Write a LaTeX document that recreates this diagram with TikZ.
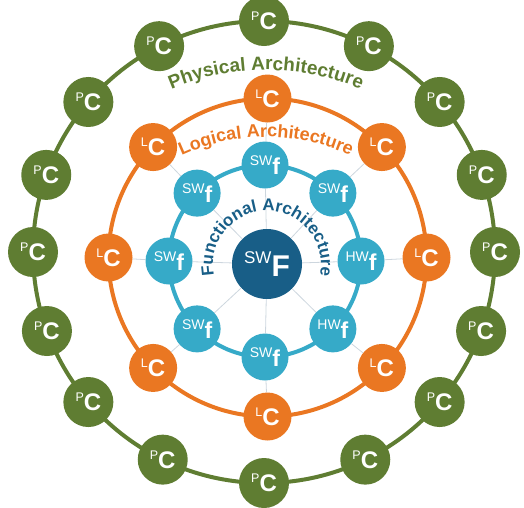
\documentclass[tikz,border=0pt]{standalone}
\usepackage{fontspec}
\setmainfont{Liberation Sans}
\usetikzlibrary{decorations.text,calc,backgrounds}
\definecolor{physgreen}{RGB}{95,125,50}
\definecolor{logorange}{RGB}{234,119,34}
\definecolor{funcblue}{RGB}{54,170,200}
\definecolor{coreblue}{RGB}{24,94,135}
\definecolor{spokegray}{RGB}{205,214,222}

% node contents
\newcommand{\pcomp}{{\raisebox{9pt}{\fontsize{12.5}{12.5}\selectfont P}\fontsize{24}{24}\selectfont\bfseries C}}
\newcommand{\lcomp}{{\raisebox{9pt}{\fontsize{12.5}{12.5}\selectfont L}\fontsize{24}{24}\selectfont\bfseries C}}
\newcommand{\swf}{{\raisebox{9pt}{\fontsize{14}{14}\selectfont SW}\fontsize{23}{23}\selectfont\bfseries f}}
\newcommand{\hwf}{{\raisebox{9pt}{\fontsize{14}{14}\selectfont HW}\fontsize{23}{23}\selectfont\bfseries f}}

\begin{document}
% y axis points down; a polar angle of a-90 puts a node a degrees clockwise from the top
\begin{tikzpicture}[x=1pt,y=-1pt,
  ball/.style={circle, inner sep=0pt, text=white},
  pcnode/.style={ball, fill=physgreen, minimum size=50pt},
  lcnode/.style={ball, fill=logorange, minimum size=48pt},
  fnode/.style={ball, fill=funcblue, minimum size=47pt},
  corenode/.style={ball, fill=coreblue, minimum size=70pt},
  ring/.style={line width=4pt},
  spoke/.style={draw=spokegray, line width=0.8pt},
  arclabel/.style={decorate, decoration={text along path, text align=center}}
]
\useasboundingbox (0,0) rectangle (524,507);

% ring centres
\coordinate (G) at (264,252);
\coordinate (O) at (267.5,257.5);
\coordinate (B) at (265,261);

% core function
\node[corenode] (core) at (267,264)
  {\raisebox{13pt}{\fontsize{17}{17}\selectfont SW}\fontsize{30}{30}\selectfont\bfseries F};

% functional ring, clockwise from the top
\foreach \i/\t in {0/\swf, 1/\swf, 2/\hwf, 3/\hwf, 4/\swf, 5/\swf, 6/\swf, 7/\swf}
  \node[fnode] (f\i) at ($(B)+({45*\i-90}:96)$) {\t};

% logical ring
\foreach \i/\a in {0/0, 1/46, 2/90, 3/134, 4/180, 5/226, 6/270, 7/314}
  \node[lcnode] (l\i) at ($(O)+({\a-90}:159)$) {\lcomp};

% physical ring
\foreach \i/\a in {0/0, 1/27, 2/49.5, 3/70.5, 4/90, 5/110, 6/130.5, 7/154,
                   8/180, 9/206, 10/229.5, 11/250, 12/270, 13/289.5, 14/310.5, 15/333}
  \node[pcnode] (p\i) at ($(G)+({\a-90}:231)$) {\pcomp};

\begin{scope}[on background layer]
  \foreach \i in {0,...,7} {
    \draw[spoke] (core) -- (f\i);
    \draw[spoke] (f\i) -- (l\i);
  }
  \draw[ring, funcblue] (B) circle[radius=96];
  \draw[ring, logorange] (O) circle[radius=159];
  \draw[ring, physgreen] (G) circle[radius=231];
\end{scope}

% ring titles, running left to right over the top
\path[arclabel, decoration={text={|\fontsize{19}{19}\selectfont\bfseries|Physical Architecture}, text color=physgreen}]
  (266,310) ++(230:240) arc[start angle=230, end angle=310, radius=240];
\path[arclabel, decoration={text={|\fontsize{18}{18}\selectfont\bfseries|Logical Architecture}, text color=logorange}]
  (266,337) ++(230:200) arc[start angle=230, end angle=310, radius=200];
\path[arclabel, decoration={text={|\fontsize{17}{17}\selectfont\bfseries|Functional Architecture}, text color=coreblue}]
  (267,265) ++(160:54) arc[start angle=160, end angle=380, radius=54];
\end{tikzpicture}
\end{document}
